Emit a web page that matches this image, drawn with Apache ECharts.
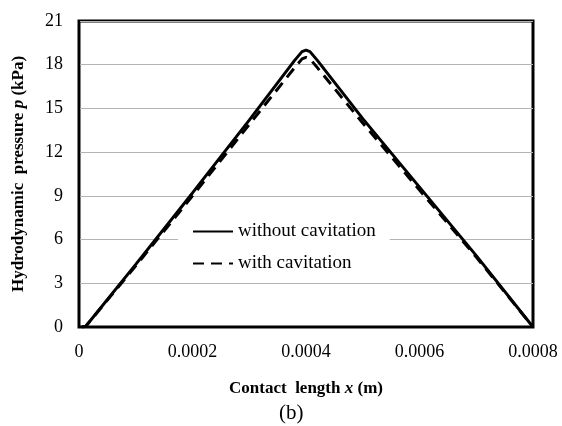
<!DOCTYPE html>
<html>
<head>
<meta charset="utf-8">
<script src="https://cdn.jsdelivr.net/npm/echarts@6/dist/echarts.min.js"></script>
<style>
html,body{margin:0;padding:0;background:#fff;}
#chart{width:562px;height:426px;}
</style>
</head>
<body>
<div id="chart"></div>
<script>
var xNoCav = [0.000005, 0.000012, 0.0001, 0.0002, 0.0003, 0.00038, 0.000393, 0.0004, 0.000407, 0.00042, 0.0005, 0.0006, 0.0007, 0.0008];
var pNoCav = [0, 0.05, 4.3, 9.2, 14.2, 18.3, 18.9, 19.0, 18.9, 18.3, 14.3, 9.6, 4.9, 0];
var xCav = [0.000005, 0.000012, 0.0001, 0.0002, 0.0003, 0.00038, 0.000393, 0.0004, 0.000407, 0.00042, 0.0005, 0.0006, 0.0007, 0.0008];
var pCav = [0, 0.05, 4.2, 9.0, 13.9, 17.8, 18.4, 18.5, 18.4, 17.8, 14.0, 9.4, 4.8, 0];
var seriesNames = ['without cavitation', 'with cavitation'];

function pairs(xs, ys){
	var out = [];
	for(var i=0;i<xs.length;i++){
		out.push([xs[i], ys[i]]);
	}
	return out;
}

var el = echarts.init(document.getElementById('chart'));
var font = 'Liberation Serif';
var nameRich = {
	b: {fontFamily: font, fontSize: 17, fontWeight: 'bold', color: '#000'},
	i: {fontFamily: font, fontSize: 17, fontWeight: 'bold', fontStyle: 'italic', color: '#000'}
};
var option = {
	animation: false,
	title: {
		text: '(b)',
		left: 274,
		top: 398,
		textStyle: {fontFamily: font, fontSize: 21, fontWeight: 'normal', color: '#000'}
	},
	grid: {
		left: 79, right: 29, top: 21, bottom: 99,
		show: true,
		borderColor: '#000',
		borderWidth: 3
	},
	legend: {
		orient: 'vertical',
		left: 178, top: 219,
		backgroundColor: '#fff',
		padding: [3, 14, 3, 14],
		itemWidth: 40,
		itemHeight: 12,
		itemGap: 13,
		itemStyle: {opacity: 0},
		data: seriesNames,
		textStyle: {fontFamily: font, fontSize: 19, color: '#000'}
	},
	xAxis: {
		type: 'value',
		min: 0, max: 0.0008, interval: 0.0002,
		name: '{b|Contact  length }{i|x}{b| (m)}',
		nameLocation: 'middle',
		nameGap: 53,
		nameTextStyle: {rich: nameRich},
		axisLine: {lineStyle: {color: '#000', width: 2}},
		axisTick: {show: false},
		splitLine: {show: false},
		axisLabel: {
			fontFamily: font, fontSize: 18, color: '#000', margin: 16,
			formatter: function(v){ return v === 0 ? '0' : v.toFixed(4); }
		}
	},
	yAxis: {
		type: 'value',
		min: 0, max: 21, interval: 3,
		name: '{b|Hydrodynamic  pressure }{i|p}{b| (kPa)}',
		nameLocation: 'middle',
		nameGap: 52,
		nameTextStyle: {rich: nameRich},
		axisLine: {show: true, lineStyle: {color: '#000', width: 2}},
		axisTick: {show: false},
		splitLine: {lineStyle: {color: '#b4b4b4', width: 1}},
		axisLabel: {fontFamily: font, fontSize: 18, color: '#000', margin: 16}
	},
	series: [
		{
			name: seriesNames[0],
			type: 'line',
			showSymbol: false,
			symbol: 'none',
			lineStyle: {color: '#000', width: 3},
			itemStyle: {color: '#000'},
			data: pairs(xNoCav, pNoCav)
		},
		{
			name: seriesNames[1],
			type: 'line',
			showSymbol: false,
			symbol: 'none',
			lineStyle: {color: '#000', width: 3, type: [11, 7]},
			itemStyle: {color: '#000'},
			data: pairs(xCav, pCav)
		}
	]
};
el.setOption(option);
</script>
</body>
</html>
